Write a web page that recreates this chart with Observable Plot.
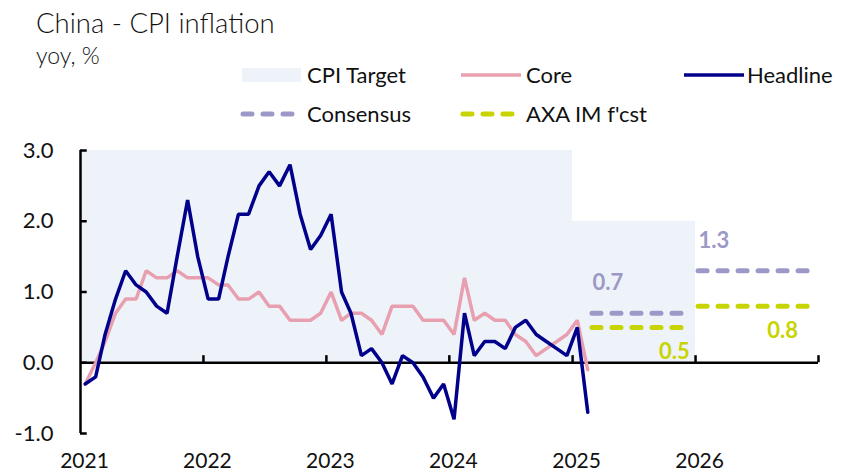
<!DOCTYPE html>
<html><head><meta charset="utf-8">
<script src="https://cdn.jsdelivr.net/npm/d3@7"></script>
<script src="https://cdn.jsdelivr.net/npm/@observablehq/plot@0.6"></script>
<style>
body{margin:0;background:#fff;font-family:Lato,"Open Sans",sans-serif;}
#wrap{position:relative;width:851px;height:476px;overflow:hidden;}
#head{position:relative;width:851px;height:130px;}
.t{position:absolute;white-space:nowrap;color:#111;line-height:1;}
.lg{position:absolute;}
</style></head>
<body><div id="wrap">
<div id="head">
  <div class="t" style="left:36px;top:9px;font-size:27.5px;font-weight:300;">China - CPI inflation</div>
  <div class="t" style="left:36px;top:44px;font-size:23px;font-weight:300;">yoy, %</div>
  <svg class="lg" width="851" height="130" style="left:0;top:0">
    <rect x="242" y="68" width="59" height="14" fill="#EEF3FA"/>
    <line x1="461" x2="521" y1="75" y2="75" stroke="#E8A0B0" stroke-width="3.5"/>
    <line x1="684" x2="744" y1="75" y2="75" stroke="#00008B" stroke-width="3.5"/>
    <line x1="243" x2="299" y1="114" y2="114" stroke="#9C99C8" stroke-width="5" stroke-dasharray="9,11" stroke-linecap="round"/>
    <line x1="463" x2="519" y1="114" y2="114" stroke="#C8D400" stroke-width="5" stroke-dasharray="9,11" stroke-linecap="round"/>
  </svg>
  <div class="t" style="left:307px;top:64px;font-size:22px;">CPI Target</div>
  <div class="t" style="left:526px;top:64px;font-size:22px;">Core</div>
  <div class="t" style="left:747px;top:64px;font-size:22px;">Headline</div>
  <div class="t" style="left:307px;top:103px;font-size:22px;">Consensus</div>
  <div class="t" style="left:526px;top:103px;font-size:22px;">AXA IM f'cst</div>
</div>
<div id="chart"></div>
</div>
<script>
// Monthly data, Jan 2021 - Feb 2025
const headline = [-0.3,-0.2,0.4,0.9,1.3,1.1,1.0,0.8,0.7,1.5,2.3,1.5,
  0.9,0.9,1.5,2.1,2.1,2.5,2.7,2.5,2.8,2.1,1.6,1.8,
  2.1,1.0,0.7,0.1,0.2,0.0,-0.3,0.1,0.0,-0.2,-0.5,-0.3,
  -0.8,0.7,0.1,0.3,0.3,0.2,0.5,0.6,0.4,0.3,0.2,0.1,
  0.5,-0.7];
const core = [-0.3,0.0,0.3,0.7,0.9,0.9,1.3,1.2,1.2,1.3,1.2,1.2,
  1.2,1.1,1.1,0.9,0.9,1.0,0.8,0.8,0.6,0.6,0.6,0.7,
  1.0,0.6,0.7,0.7,0.6,0.4,0.8,0.8,0.8,0.6,0.6,0.6,
  0.4,1.2,0.6,0.7,0.6,0.6,0.4,0.3,0.1,0.2,0.3,0.4,
  0.6,-0.1];
const startYear = 2021;
// CPI target
const targetFrom = [2021, 2025];
const targetTo = [2025, 2026];
const targetValue = [3.0, 2.0];
// Forecasts
const fcstYears = [2025, 2026];
const consensus = [0.7, 1.3];
const axa = [0.5, 0.8];
// Axis ticks
const yTicks = [-1, 0, 1, 2, 3];
const xLabelYears = [2021, 2022, 2023, 2024, 2025, 2026];
const xTickYears = [2022, 2023, 2024, 2025, 2026, 2027];

const D = (y, m = 0, d = 1) => new Date(Date.UTC(y, m, d));
const monthly = headline.map((v, i) => ({date: D(startYear, i, 15), headline: v, core: core[i]}));
const target = targetValue.map((v, i) => ({x1: D(targetFrom[i]), x2: D(targetTo[i]), y: v}));
const segStart = y => y === 2025 ? D(y, 2, 1) : D(y, 0, 10);
const segEnd = y => D(y, 11, 15);
const fc = fcstYears.map((y, i) => ({year: y, x1: segStart(y), x2: segEnd(y), cons: consensus[i], axa: axa[i],
  axaLabelX: y === 2025 ? segEnd(y) : D(y, 10, 1)}));
const C_HEAD = "#00008B", C_CORE = "#E8A0B0", C_CONS = "#9C99C8", C_AXA = "#C8D400";

const plot = Plot.plot({
  width: 851, height: 346,
  marginLeft: 80, marginRight: 33, marginTop: 20, marginBottom: 43,
  style: {fontFamily: "Lato, 'Open Sans', sans-serif", fontSize: "22px", color: "#111", background: "white", overflow: "visible"},
  x: {type: "utc", domain: [D(2021), D(2027)]},
  y: {domain: [-1, 3]},
  marks: [
    Plot.rectY(target, {x1: "x1", x2: "x2", y1: 0, y2: "y", fill: "#EEF3FA"}),
    Plot.ruleY(fc, {y: "cons", x1: "x1", x2: "x2", stroke: C_CONS, strokeWidth: 5, strokeDasharray: "9,11", strokeLinecap: "round"}),
    Plot.ruleY(fc, {y: "axa", x1: "x1", x2: "x2", stroke: C_AXA, strokeWidth: 5, strokeDasharray: "9,11", strokeLinecap: "round"}),
    Plot.text(fc, {x: "x1", y: "cons", text: d => d.cons.toFixed(1), textAnchor: "start", dy: -30, fill: C_CONS, fontWeight: 700, fontSize: 22}),
    Plot.text(fc, {x: "axaLabelX", y: "axa", text: d => d.axa.toFixed(1), textAnchor: "end", dy: 25, fill: C_AXA, fontWeight: 700, fontSize: 22}),
    Plot.ruleY([0], {x1: D(2021), x2: D(2027), stroke: "#000", strokeWidth: 2.5}),
    Plot.ruleX(xTickYears.map(y => D(y)), {y1: 0, y2: 0.1, stroke: "#000", strokeWidth: 2.5}),
    Plot.ruleX([D(2021)], {y1: -1, y2: 3, stroke: "#000", strokeWidth: 2.5}),
    Plot.ruleY(yTicks, {x1: D(2021), x2: D(2021, 0, 21), stroke: "#000", strokeWidth: 2.5}),
    Plot.line(monthly, {x: "date", y: "core", stroke: C_CORE, strokeWidth: 3.5, strokeLinejoin: "miter"}),
    Plot.line(monthly, {x: "date", y: "headline", stroke: C_HEAD, strokeWidth: 3.5, strokeLinejoin: "miter"}),
    Plot.axisY(yTicks, {tickSize: 0, tickPadding: 27, tickFormat: d => d.toFixed(1), fontSize: 22}),
    Plot.axisX(xLabelYears.map(y => D(y)), {tickSize: 0, tickPadding: 20, tickFormat: d => String(d.getUTCFullYear()), dx: 4, fontSize: 21})
  ]
});
document.getElementById("chart").appendChild(plot);
</script>
</body></html>
